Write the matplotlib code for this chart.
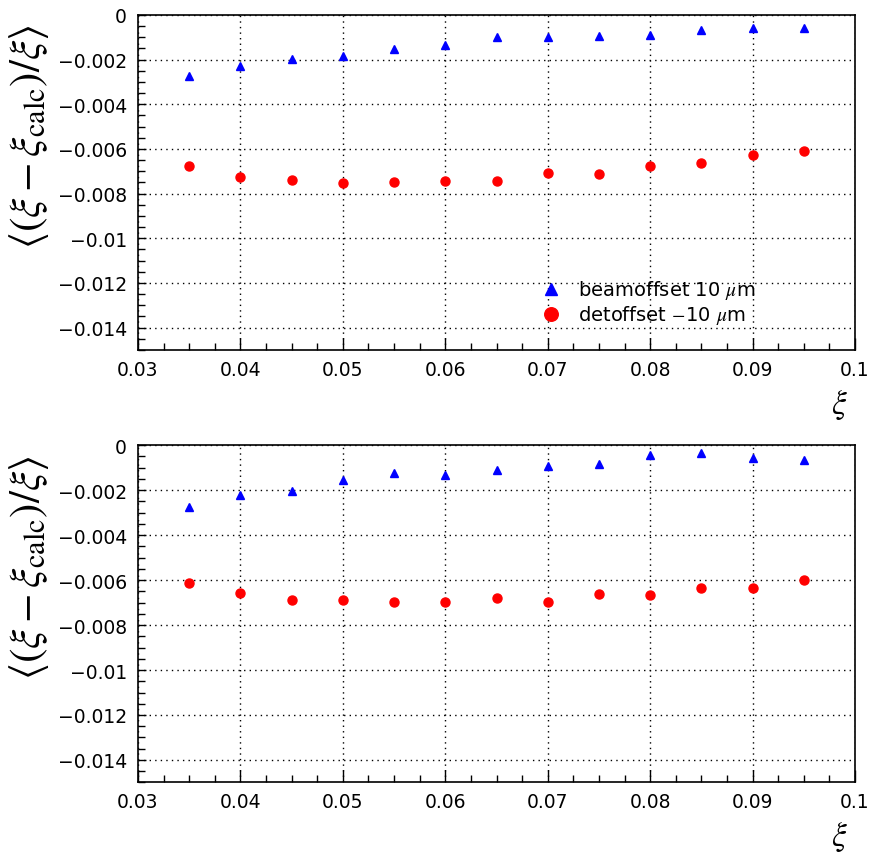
import numpy as np
import matplotlib
matplotlib.use('Agg')
import matplotlib.pyplot as plt
from matplotlib.ticker import MultipleLocator

plt.rcParams['font.family'] = ['DejaVu Sans']
plt.rcParams['mathtext.fontset'] = 'stix'

# data
xi = [0.035, 0.040, 0.045, 0.050, 0.055, 0.060, 0.065, 0.070, 0.075, 0.080, 0.085, 0.090, 0.095]

beam_top = [-0.00272, -0.00229, -0.00195, -0.00182, -0.00154, -0.00133, -0.00099,
            -0.00099, -0.00093, -0.00090, -0.00067, -0.00060, -0.00060]
det_top = [-0.00675, -0.00726, -0.00739, -0.00752, -0.00747, -0.00745, -0.00745,
           -0.00707, -0.00714, -0.00677, -0.00662, -0.00628, -0.00607]

beam_bot = [-0.00276, -0.00220, -0.00204, -0.00156, -0.00124, -0.00132, -0.00109,
            -0.00092, -0.00086, -0.00044, -0.00037, -0.00059, -0.00065]
det_bot = [-0.00613, -0.00659, -0.00689, -0.00690, -0.00699, -0.00699, -0.00680,
           -0.00698, -0.00664, -0.00667, -0.00634, -0.00636, -0.00599]

xticks = [0.03, 0.04, 0.05, 0.06, 0.07, 0.08, 0.09, 0.1]
xticklabels = ['0.03', '0.04', '0.05', '0.06', '0.07', '0.08', '0.09', '0.1']
yticks = [0, -0.002, -0.004, -0.006, -0.008, -0.01, -0.012, -0.014]
yticklabels = ['0', '\u22120.002', '\u22120.004', '\u22120.006', '\u22120.008',
               '\u22120.01', '\u22120.012', '\u22120.014']

ylab = r'$\left<\left(\xi - \xi_{\mathrm{calc}}\right)/\xi\right>$'

fig = plt.figure(figsize=(8.69, 8.54), dpi=100)
ax1 = fig.add_axes([0.1588, 0.589, 0.8251, 0.3923])
ax2 = fig.add_axes([0.1588, 0.0826, 0.8251, 0.3950])


def panel(ax, beam, det, legend=False):
    ax.plot(xi, beam, '^', color='#0000ff', ms=6, mec='#0000ff', label=r'beamoffset 10 $\mu$m')
    ax.plot(xi, det, 'o', color='#ff0000', ms=6.5, mec='#ff0000', label=r'detoffset $-$10 $\mu$m')
    ax.set_xlim(0.03, 0.1)
    ax.set_ylim(-0.015, 0)
    ax.set_xticks(xticks)
    ax.set_xticklabels(xticklabels)
    ax.set_yticks(yticks)
    ax.set_yticklabels(yticklabels)
    ax.xaxis.set_minor_locator(MultipleLocator(0.0025))
    ax.yaxis.set_minor_locator(MultipleLocator(0.0005))
    ax.tick_params(which='both', direction='in', top=False, right=False, labelsize=13.5, width=1)
    ax.tick_params(axis='x', which='major', length=9, pad=7)
    ax.tick_params(axis='y', which='major', length=6, pad=8)
    ax.tick_params(which='minor', length=5)
    ax.grid(True, which='major', linestyle=(0, (1, 3)), color='black', linewidth=1)
    for s in ax.spines.values():
        s.set_linewidth(1.2)
    ax.set_ylabel(ylab, fontsize=31, va='center')
    ax.yaxis.set_label_coords(-0.152, 0.64)
    ax.text(0.99, -0.16, r'$\xi$', transform=ax.transAxes, fontsize=24, ha='right', va='center')
    if legend:
        ax.legend(loc='lower left', bbox_to_anchor=(0.53, 0.03), frameon=False, fontsize=14,
                  handletextpad=0.4, markerscale=1.5, borderaxespad=0.3, labelspacing=0.1)


panel(ax1, beam_top, det_top, legend=True)
panel(ax2, beam_bot, det_bot)

fig.savefig('out.png', dpi=100)
